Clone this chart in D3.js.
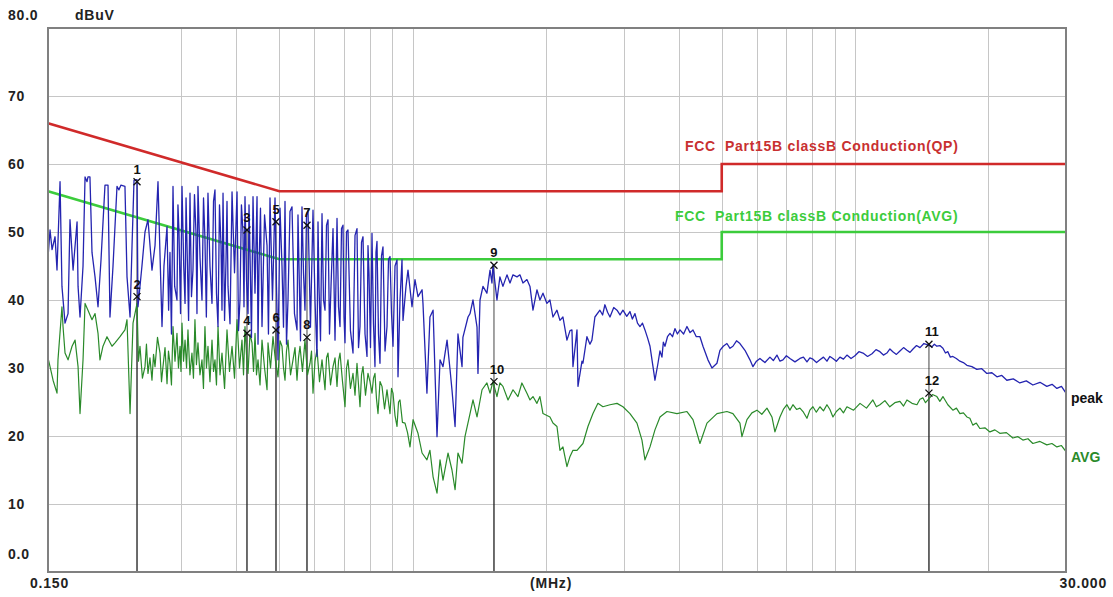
<!DOCTYPE html>
<html>
<head>
<meta charset="utf-8">
<script src="https://cdn.jsdelivr.net/npm/d3@7"></script>
<style>
  body { margin: 0; background: #fff; }
  svg text { font-family: "Liberation Sans", Arial, sans-serif; font-weight: bold; white-space: pre; }
</style>
</head>
<body>
<svg id="chart" width="1113" height="597"></svg>
<script>
// Level axis (dBuV) and frequency axis (MHz)
const levelTicks = [10, 20, 30, 40, 50, 60, 70];
const freqGrid = [0.3, 0.4, 0.5, 0.6, 0.7, 0.8, 0.9, 1, 2, 3, 4, 5, 6, 7, 8, 9, 10, 20];
const freqEndLabels = ["0.150", "30.000"];

// FCC Part 15B class B conducted limits: [MHz, dBuV]
const qpLimit = [[0.15, 66], [0.5, 56], [5, 56], [5, 60], [30, 60]];
const avgLimit = [[0.15, 56], [0.5, 46], [5, 46], [5, 50], [30, 50]];
const qpLimitName = "FCC  Part15B classB Conduction(QP)";
const avgLimitName = "FCC  Part15B classB Conduction(AVG)";

// Peak detector sweep: [MHz, dBuV]
const peakTrace = [
  [0.1500,46.2],[0.1516,50.3],[0.1532,47.4],[0.1556,49.3],[0.1572,44.4],[0.1597,57.4],[0.1613,42.0],[0.1639,36.6],
  [0.1665,38.0],[0.1682,51.8],[0.1709,44.4],[0.1745,51.5],[0.1754,42.0],[0.1772,37.5],[0.1800,45.0],[0.1819,58.1],
  [0.1838,57.4],[0.1847,58.1],[0.1866,58.1],[0.1886,47.0],[0.1916,43.4],[0.1946,39.0],[0.1977,46.0],[0.2018,56.9],
  [0.2050,56.9],[0.2071,37.5],[0.2104,45.0],[0.2148,56.7],[0.2170,56.2],[0.2193,56.9],[0.2239,56.7],[0.2263,43.4],
  [0.2299,37.5],[0.2323,48.0],[0.2347,57.6],[0.2384,57.7],[0.2396,39.0],[0.2446,45.0],[0.2485,50.0],[0.2524,51.8],
  [0.2577,44.4],[0.2618,48.0],[0.2659,57.4],[0.2715,36.1],[0.2743,45.0],[0.2787,50.8],[0.2810,38.5],[0.2830,47.0],
  [0.2852,35.0],[0.2875,56.7],[0.2900,42.0],[0.2935,40.0],[0.2950,54.0],[0.2966,50.0],[0.2990,38.0],[0.3013,56.7],
  [0.3040,45.0],[0.3061,39.5],[0.3077,55.0],[0.3093,48.0],[0.3118,37.0],[0.3141,55.7],[0.3165,40.5],[0.3190,44.4],
  [0.3215,55.5],[0.3240,50.0],[0.3257,38.0],[0.3274,56.7],[0.3310,46.0],[0.3343,40.0],[0.3370,55.0],[0.3395,49.0],
  [0.3420,37.5],[0.3449,55.7],[0.3485,45.0],[0.3522,39.5],[0.3550,54.5],[0.3577,56.2],[0.3605,41.0],[0.3634,36.1],
  [0.3662,54.0],[0.3691,48.0],[0.3710,38.5],[0.3730,55.7],[0.3760,37.0],[0.3789,46.0],[0.3808,54.5],[0.3828,42.0],
  [0.3868,36.5],[0.3909,55.9],[0.3960,44.0],[0.4012,55.9],[0.4043,35.5],[0.4074,40.0],[0.4105,54.0],[0.4138,50.0],
  [0.4160,39.0],[0.4182,55.2],[0.4215,43.0],[0.4248,38.0],[0.4270,54.0],[0.4292,47.0],[0.4325,34.5],[0.4360,55.2],
  [0.4405,41.0],[0.4452,55.2],[0.4475,33.5],[0.4498,45.0],[0.4533,53.5],[0.4569,36.1],[0.4630,52.5],[0.4690,48.0],
  [0.4725,35.0],[0.4763,55.0],[0.4825,40.0],[0.4889,55.0],[0.4927,42.0],[0.4966,31.2],[0.5018,53.5],[0.5070,45.0],
  [0.5110,36.0],[0.5150,54.5],[0.5190,33.5],[0.5231,40.0],[0.5285,53.0],[0.5341,53.7],[0.5410,38.0],[0.5482,35.6],
  [0.5510,52.5],[0.5539,45.0],[0.5582,34.0],[0.5626,53.7],[0.5670,44.0],[0.5714,38.5],[0.5760,52.5],[0.5805,53.2],
  [0.5880,36.0],[0.5958,53.2],[0.6020,40.0],[0.6083,31.7],[0.6115,51.5],[0.6147,42.0],[0.6195,34.0],[0.6244,52.7],
  [0.6293,40.0],[0.6342,38.5],[0.6392,51.0],[0.6442,51.8],[0.6492,35.0],[0.6543,42.0],[0.6612,50.5],[0.6681,34.1],
  [0.6751,52.0],[0.6804,39.0],[0.6857,36.1],[0.6911,50.5],[0.6965,51.0],[0.7001,37.5],[0.7038,33.7],[0.7093,50.0],
  [0.7148,50.3],[0.7240,35.5],[0.7337,32.2],[0.7414,49.5],[0.7491,50.5],[0.7550,33.0],[0.7609,36.1],[0.7669,48.5],
  [0.7729,49.3],[0.7810,35.0],[0.7891,31.7],[0.7932,48.0],[0.7973,44.0],[0.8036,33.0],[0.8099,49.8],[0.8162,36.5],
  [0.8226,30.2],[0.8269,47.0],[0.8312,48.6],[0.8377,35.0],[0.8443,30.7],[0.8510,46.5],[0.8576,47.8],[0.8667,32.5],
  [0.8757,36.1],[0.8826,46.0],[0.8895,46.4],[0.8965,38.0],[0.9035,33.2],[0.9130,45.0],[0.9225,45.9],[0.9273,28.7],
  [0.9370,40.0],[0.9468,45.9],[0.9518,37.0],[0.9667,42.0],[0.9768,44.4],[0.9974,39.0],[1.013,43.0],[1.029,40.5],
  [1.051,41.5],[1.056,39.5],[1.078,26.3],[1.095,37.5],[1.113,38.5],[1.136,19.9],[1.154,31.2],[1.172,30.2],
  [1.197,34.1],[1.216,29.7],[1.228,26.8],[1.248,21.4],[1.267,35.0],[1.294,30.2],[1.300,34.5],[1.335,37.5],
  [1.349,38.0],[1.370,40.0],[1.399,36.0],[1.406,29.2],[1.421,40.0],[1.443,42.0],[1.473,41.0],[1.497,44.4],
  [1.512,42.5],[1.520,45.1],[1.552,40.0],[1.576,43.4],[1.601,42.0],[1.635,43.7],[1.661,42.5],[1.687,43.7],
  [1.723,43.4],[1.749,43.7],[1.777,42.5],[1.814,43.0],[1.843,42.0],[1.872,38.5],[1.911,41.5],[1.941,40.0],
  [1.972,41.0],[2.013,39.5],[2.045,40.0],[2.077,37.5],[2.121,38.5],[2.154,37.0],[2.188,37.5],[2.234,34.1],
  [2.270,35.5],[2.293,35.6],[2.305,30.2],[2.354,35.6],[2.366,27.3],[2.416,31.0],[2.428,30.7],[2.479,34.6],
  [2.518,33.5],[2.544,34.1],[2.584,37.5],[2.652,38.5],[2.690,37.8],[2.722,39.3],[2.760,38.2],[2.795,37.5],
  [2.850,38.9],[2.899,38.5],[2.945,37.8],[2.990,38.5],[3.050,37.6],[3.101,38.3],[3.140,37.2],[3.183,38.0],
  [3.225,36.6],[3.267,36.1],[3.310,36.6],[3.353,35.6],[3.400,34.4],[3.442,33.2],[3.496,30.2],[3.532,28.2],
  [3.588,30.7],[3.625,32.5],[3.663,31.6],[3.690,33.8],[3.721,33.2],[3.770,34.6],[3.819,35.1],[3.870,34.6],
  [3.919,35.8],[3.970,35.0],[4.023,35.6],[4.100,35.0],[4.172,36.1],[4.240,35.2],[4.305,35.6],[4.380,34.6],
  [4.464,34.6],[4.535,33.2],[4.654,31.2],[4.752,30.0],[4.877,30.7],[4.953,32.6],[5.040,33.2],[5.137,33.6],
  [5.220,32.9],[5.300,33.2],[5.400,34.0],[5.497,33.6],[5.642,32.6],[5.791,31.2],[5.882,30.2],[5.990,31.0],
  [6.100,31.4],[6.260,30.8],[6.426,31.6],[6.540,31.1],[6.664,31.9],[6.770,31.0],[6.876,31.2],[7.000,31.8],
  [7.131,31.4],[7.320,30.9],[7.512,31.4],[7.650,31.6],[7.791,30.9],[7.910,31.5],[8.037,31.3],[8.190,30.8],
  [8.335,31.2],[8.490,31.6],[8.645,31.0],[8.780,31.7],[8.919,31.4],[9.080,31.0],[9.250,31.6],[9.420,31.3],
  [9.593,31.9],[9.800,31.4],[10.00,31.8],[10.21,32.4],[10.43,32.2],[10.68,31.7],[10.93,32.1],[11.16,32.7],
  [11.39,32.4],[11.60,31.9],[11.81,32.2],[12.00,32.8],[12.18,32.4],[12.41,32.0],[12.64,32.5],[12.88,33.0],
  [13.11,32.6],[13.32,32.3],[13.53,32.8],[13.78,33.3],[14.03,33.0],[14.32,33.6],[14.62,33.4],[14.93,33.1],
  [15.12,33.5],[15.32,33.2],[15.56,33.3],[15.81,32.9],[16.02,32.2],[16.22,32.4],[16.43,31.6],[16.65,31.7],
  [16.95,31.4],[17.27,31.0],[17.58,30.8],[17.91,30.4],[18.38,30.2],[18.86,29.8],[19.35,29.9],[19.87,29.2],
  [20.40,29.3],[20.94,28.7],[21.48,28.9],[22.05,28.2],[22.80,28.4],[23.59,27.8],[24.40,28.1],[25.25,27.5],
  [26.20,27.9],[27.15,27.3],[27.90,27.6],[28.61,27.0],[29.30,27.3],[30.00,26.3]
];

// Average detector sweep: [MHz, dBuV]
const avgTrace = [
  [0.1500,31.5],[0.1516,30.2],[0.1540,28.2],[0.1572,26.3],[0.1580,31.2],[0.1613,39.0],[0.1622,36.1],[0.1639,32.2],
  [0.1665,31.2],[0.1700,33.2],[0.1727,34.1],[0.1754,30.2],[0.1772,23.3],[0.1800,31.2],[0.1819,39.5],[0.1847,38.5],
  [0.1886,37.1],[0.1916,38.0],[0.1946,35.1],[0.1966,31.2],[0.1997,33.2],[0.2039,34.6],[0.2093,33.2],[0.2126,33.7],
  [0.2182,34.6],[0.2239,35.6],[0.2263,37.1],[0.2299,23.3],[0.2335,36.6],[0.2384,39.5],[0.2402,31.0],[0.2421,33.2],
  [0.2452,28.5],[0.2485,30.2],[0.2504,33.5],[0.2524,29.2],[0.2550,31.5],[0.2577,28.2],[0.2598,32.0],[0.2618,30.2],
  [0.2652,34.5],[0.2687,32.2],[0.2708,28.0],[0.2729,30.2],[0.2758,33.0],[0.2787,27.7],[0.2808,32.5],[0.2830,30.7],
  [0.2852,27.5],[0.2875,36.1],[0.2905,31.0],[0.2935,35.1],[0.2958,30.0],[0.2982,33.2],[0.2997,29.5],[0.3013,36.6],
  [0.3037,31.0],[0.3061,34.1],[0.3085,30.0],[0.3108,35.6],[0.3140,29.0],[0.3173,32.2],[0.3198,28.5],[0.3223,37.1],
  [0.3248,30.5],[0.3274,33.7],[0.3308,29.0],[0.3343,31.2],[0.3369,27.0],[0.3395,36.1],[0.3422,30.0],[0.3449,33.2],
  [0.3485,28.0],[0.3522,34.1],[0.3550,29.5],[0.3577,31.2],[0.3605,27.5],[0.3634,36.1],[0.3672,29.0],[0.3710,32.2],
  [0.3760,27.0],[0.3808,35.6],[0.3858,29.5],[0.3909,33.2],[0.3960,28.5],[0.4012,37.1],[0.4064,30.0],[0.4117,34.1],
  [0.4150,29.0],[0.4182,36.1],[0.4215,32.0],[0.4248,29.2],[0.4292,35.0],[0.4337,33.7],[0.4372,29.5],[0.4406,35.1],
  [0.4440,29.0],[0.4475,31.2],[0.4522,27.5],[0.4569,34.1],[0.4630,30.0],[0.4690,26.8],[0.4714,33.7],[0.4776,30.0],
  [0.4838,34.6],[0.4902,31.0],[0.4966,28.7],[0.5018,34.0],[0.5070,33.2],[0.5110,30.0],[0.5150,28.2],[0.5190,32.5],
  [0.5231,34.1],[0.5300,29.0],[0.5369,31.2],[0.5425,33.0],[0.5482,28.2],[0.5525,31.5],[0.5568,33.2],[0.5640,29.5],
  [0.5714,34.1],[0.5790,29.0],[0.5866,30.7],[0.5912,32.5],[0.5958,26.3],[0.6020,31.0],[0.6083,32.7],[0.6163,28.0],
  [0.6244,31.2],[0.6293,29.0],[0.6342,26.8],[0.6392,31.5],[0.6442,32.2],[0.6527,27.5],[0.6612,30.2],[0.6681,31.5],
  [0.6751,27.3],[0.6804,31.0],[0.6857,32.2],[0.6947,28.0],[0.7038,24.3],[0.7093,30.0],[0.7148,31.2],[0.7240,27.0],
  [0.7337,29.2],[0.7414,26.0],[0.7491,30.7],[0.7550,27.5],[0.7609,24.3],[0.7669,29.0],[0.7729,30.2],[0.7830,26.0],
  [0.7932,29.2],[0.8015,28.0],[0.8099,26.3],[0.8162,28.5],[0.8226,29.2],[0.8290,25.5],[0.8356,23.3],[0.8444,28.0],
  [0.8532,27.3],[0.8645,24.0],[0.8757,26.8],[0.8826,25.0],[0.8895,23.3],[0.8965,27.0],[0.9035,26.3],[0.9130,23.0],
  [0.9225,21.4],[0.9298,25.0],[0.9370,25.3],[0.9490,22.0],[0.9617,21.9],[0.9745,20.5],[0.9870,18.4],[1.003,22.4],
  [1.029,20.4],[1.051,17.5],[1.078,16.5],[1.095,17.9],[1.113,14.0],[1.136,11.6],[1.154,16.5],[1.172,13.5],
  [1.203,17.5],[1.228,15.0],[1.248,12.1],[1.267,17.5],[1.294,16.0],[1.314,19.9],[1.349,23.3],[1.370,25.3],
  [1.399,22.8],[1.436,26.8],[1.473,27.8],[1.497,26.3],[1.520,28.0],[1.552,25.8],[1.576,27.8],[1.601,27.3],
  [1.644,25.3],[1.687,26.8],[1.731,25.8],[1.767,27.8],[1.814,26.3],[1.843,25.3],[1.872,25.8],[1.911,24.8],
  [1.941,25.8],[1.972,23.3],[2.045,22.8],[2.077,21.9],[2.121,21.4],[2.154,17.9],[2.188,18.4],[2.234,15.5],
  [2.270,17.0],[2.305,17.9],[2.354,17.9],[2.428,18.9],[2.492,21.4],[2.558,23.3],[2.625,24.8],[2.694,24.3],
  [2.795,24.6],[2.899,24.8],[2.990,24.3],[3.101,23.3],[3.216,21.9],[3.301,19.4],[3.353,16.5],[3.442,18.4],
  [3.532,20.9],[3.626,22.8],[3.760,23.6],[3.960,23.3],[4.172,23.6],[4.305,22.4],[4.464,18.9],[4.630,21.9],
  [4.877,23.3],[5.137,23.6],[5.300,23.3],[5.497,21.9],[5.554,19.9],[5.701,22.4],[5.850,23.4],[6.006,23.8],
  [6.160,23.2],[6.327,24.1],[6.493,22.8],[6.595,20.6],[6.769,22.8],[6.890,23.9],[7.020,24.6],[7.130,23.8],
  [7.243,24.6],[7.380,23.9],[7.512,24.1],[7.650,23.5],[7.791,22.6],[7.910,23.8],[8.037,24.3],[8.180,23.5],
  [8.335,24.3],[8.490,23.7],[8.645,24.6],[8.780,23.9],[8.919,22.8],[9.080,23.6],[9.250,24.1],[9.420,23.4],
  [9.593,24.3],[9.930,23.8],[10.27,24.8],[10.62,24.1],[10.98,25.3],[11.18,24.3],[11.39,24.6],[11.69,25.2],
  [11.99,24.3],[12.31,24.9],[12.64,25.1],[12.88,24.4],[13.11,25.3],[13.46,24.8],[13.81,24.6],[14.03,25.4],
  [14.25,25.6],[14.44,24.9],[14.62,25.3],[14.97,26.1],[15.32,25.8],[15.56,25.1],[15.81,25.8],[16.22,24.6],
  [16.65,23.8],[16.96,24.1],[17.27,23.3],[17.59,23.4],[17.91,22.8],[18.19,22.6],[18.47,21.6],[18.81,21.9],
  [19.16,21.1],[19.67,21.2],[20.19,20.6],[20.72,20.9],[21.26,20.4],[22.00,20.5],[22.75,19.7],[23.36,19.9],
  [23.97,19.4],[24.61,19.6],[25.25,18.9],[26.20,19.2],[27.15,18.7],[27.88,18.9],[28.61,18.4],[29.30,18.6],
  [30.00,17.7]
];

// Final measurement markers
const markerNo = [1, 2, 3, 4, 5, 6, 7, 8, 9, 10, 11, 12];
const markerMHz = [0.2384, 0.2384, 0.4225, 0.4225, 0.4914, 0.4914, 0.5774, 0.5774, 1.528, 1.528, 14.70, 14.70];
const markerLevel = [57.4, 40.5, 50.3, 35.1, 51.5, 35.6, 51.0, 34.5, 45.1, 28.0, 33.5, 26.3];

const svg = d3.select("#chart");
const plotL = 48, plotR = 1066, plotT = 28, plotB = 572;

const x = d3.scaleLog().domain([0.15, 30]).range([plotL, plotR]);
const y = d3.scaleLinear().domain([0, 80]).range([plotB, plotT]);

// grid
const grid = svg.append("g").attr("stroke", "#c6c6c6").attr("stroke-width", 1);
grid.selectAll("line.h").data(levelTicks).join("line")
  .attr("x1", plotL).attr("x2", plotR)
  .attr("y1", d => Math.round(y(d)) + 0.5).attr("y2", d => Math.round(y(d)) + 0.5);
grid.selectAll("line.v").data(freqGrid).join("line")
  .attr("y1", plotT).attr("y2", plotB)
  .attr("x1", d => Math.round(x(d)) + 0.5).attr("x2", d => Math.round(x(d)) + 0.5);

// marker drop lines
const markers = markerNo.map((n, i) => ({ n, f: markerMHz[i], v: markerLevel[i] }));
svg.append("g").selectAll("line").data(markers).join("line")
  .attr("x1", d => x(d.f)).attr("x2", d => x(d.f))
  .attr("y1", d => y(d.v)).attr("y2", plotB)
  .attr("stroke", "#222").attr("stroke-opacity", 0.7).attr("stroke-width", 1.2);

const line = d3.line().x(d => x(d[0])).y(d => y(d[1]));

// limits
svg.append("path").datum(qpLimit).attr("d", line)
  .attr("fill", "none").attr("stroke", "#d02a2a").attr("stroke-width", 2.6);
svg.append("path").datum(avgLimit).attr("d", line)
  .attr("fill", "none").attr("stroke", "#3ccc3c").attr("stroke-width", 2.6);

// traces
svg.append("path").datum(avgTrace).attr("d", line)
  .attr("fill", "none").attr("stroke", "#2a8a2a").attr("stroke-width", 1.2).attr("stroke-linejoin", "round");
svg.append("path").datum(peakTrace).attr("d", line)
  .attr("fill", "none").attr("stroke", "#2424b0").attr("stroke-width", 1.3).attr("stroke-linejoin", "round");

// marker crosses and numbers
const mk = svg.append("g").selectAll("g").data(markers).join("g")
  .attr("transform", d => `translate(${x(d.f)},${y(d.v)})`);
mk.append("path").attr("d", "M-3.5,-3.5L3.5,3.5M-3.5,3.5L3.5,-3.5")
  .attr("stroke", "#111").attr("stroke-width", 1.3);
mk.append("text").attr("x", d => d.n > 9 ? 3 : 0).attr("y", -8)
  .attr("text-anchor", "middle").attr("font-size", 13).attr("fill", "#111")
  .text(d => d.n);

// frame
svg.append("rect").attr("x", plotL).attr("y", plotT)
  .attr("width", plotR - plotL).attr("height", plotB - plotT)
  .attr("fill", "none").attr("stroke", "#808080").attr("stroke-width", 2);

// level labels
const txt = svg.append("g").attr("font-size", 14).attr("fill", "#222").attr("letter-spacing", 0.8);
txt.selectAll("text.t").data(levelTicks).join("text")
  .attr("x", 8).attr("y", d => y(d) + 4.5).text(d => d);
txt.append("text").attr("x", 8).attr("y", y(80) - 8).text("80.0");
txt.append("text").attr("x", 8).attr("y", y(0) - 13).text("0.0");
txt.append("text").attr("x", 75).attr("y", y(80) - 8).text("dBuV");

// frequency labels
txt.append("text").attr("x", 30).attr("y", 588).text(freqEndLabels[0]);
txt.append("text").attr("x", 1107).attr("y", 588).attr("text-anchor", "end").text(freqEndLabels[1]);
txt.append("text").attr("x", 530).attr("y", 588).text("(MHz)");

// limit names
svg.append("text").attr("x", 685).attr("y", y(60) - 13).attr("font-size", 14)
  .attr("letter-spacing", 0.7).attr("fill", "#c83030").text(qpLimitName);
svg.append("text").attr("x", 675).attr("y", y(50) - 11).attr("font-size", 14)
  .attr("letter-spacing", 0.7).attr("fill", "#3ccc3c").text(avgLimitName);

// trace names at the right edge
const lastPeak = peakTrace[peakTrace.length - 1];
const lastAvg = avgTrace[avgTrace.length - 1];
svg.append("text").attr("x", 1071).attr("y", y(lastPeak[1]) + 10).attr("font-size", 14)
  .attr("fill", "#111").text("peak");
svg.append("text").attr("x", 1071).attr("y", y(lastAvg[1]) + 10).attr("font-size", 14)
  .attr("fill", "#2a8a2a").text("AVG");
</script>
</body>
</html>
